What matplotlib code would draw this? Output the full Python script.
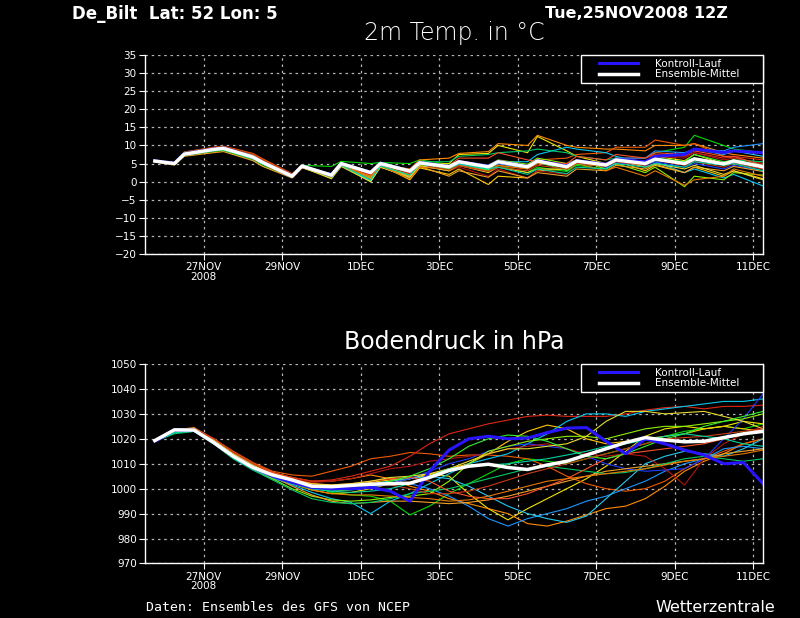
import numpy as np
import matplotlib
matplotlib.use('Agg')
import matplotlib.pyplot as plt
from matplotlib.patches import Rectangle

plt.rcParams['font.family'] = 'DejaVu Sans'

# Zeitachse: Tage seit 25NOV2008 00Z
tick_pos = [2, 4, 6, 8, 10, 12, 14, 16]
tick_labels = ['27NOV\n2008', '29NOV', '1DEC', '3DEC', '5DEC', '7DEC', '9DEC', '11DEC']

# Bodendruck alle 12h ab 25NOV 18Z, Temperatur jeweils 06Z und 12Z
p_time = np.arange(0.75, 16.26, 0.5)
t_time = [0.75]
for d in range(1, 16):
    t_time += [d + 0.25, d + 0.5]
t_time.append(16.25)

member_colors = ['#00dc00', '#f0e600', '#ffc800', '#ff8c00', '#f05a00', '#dc2814', '#00c8f0',
                 '#1e96ff', '#28c8f0', '#1e3cff', '#b41414', '#8cf000', '#f0a028', '#00c864',
                 '#fa5028', '#e6dc32', '#e67800', '#32f032', '#c83c14', '#00d2a0']

# 2m Temperatur
temp_members = [
    [5.6, 4.8, 7.2, 8.3, 8.6, 6.0, 4.3, 1.3, 4.5, 4.2, 5.6, 5.0, 5.3, 5.0, 6.0, 4.8, 5.6, 3.0, 4.5, 2.5, 4.0, 2.8, 4.5, 3.5, 5.5, 4.8, 8.0, 9.5, 12.8, 10.0, 9.0, 8.0],
    [5.5, 4.7, 7.8, 9.1, 9.4, 7.2, 5.6, 1.2, 4.0, 1.0, 4.6, 0.0, 4.2, 1.5, 4.8, 5.0, 7.5, 7.8, 10.0, 8.0, 12.5, 8.5, 7.0, 5.0, 6.5, 5.5, 7.0, 5.8, 7.5, 5.0, 6.0, 3.8],
    [5.4, 4.8, 7.5, 8.8, 9.1, 6.9, 5.4, 1.6, 4.2, 1.0, 4.8, 0.3, 4.6, 0.5, 3.8, 2.0, 3.5, -0.8, 1.5, 1.0, 3.0, 3.5, 5.0, 4.2, 5.8, 3.0, 4.5, 2.5, 4.0, 1.5, 3.0, 0.8],
    [5.6, 5.1, 8.0, 9.3, 9.6, 7.5, 6.0, 2.0, 4.6, 1.5, 5.2, 2.0, 4.8, 3.5, 6.0, 6.5, 7.8, 8.3, 10.5, 10.0, 12.8, 10.0, 9.5, 9.0, 9.0, 8.5, 10.0, 10.0, 10.5, 8.0, 7.5, 6.5],
    [5.7, 5.2, 8.2, 9.5, 9.8, 7.8, 6.3, 2.2, 4.4, 1.2, 4.5, 1.5, 4.4, 2.0, 4.5, 3.0, 4.8, 3.5, 5.0, 4.5, 6.0, 6.5, 7.5, 8.0, 9.5, 9.5, 11.5, 10.0, 10.5, 7.0, 6.5, 5.0],
    [5.8, 5.3, 8.0, 9.4, 9.6, 7.4, 5.8, 1.8, 4.2, 1.4, 4.4, 1.0, 4.0, 2.2, 4.5, 3.5, 4.8, 3.0, 4.5, 3.5, 5.0, 4.0, 5.5, 5.0, 6.5, 6.5, 7.5, 7.0, 8.0, 6.5, 7.0, 6.0],
    [5.5, 4.9, 7.4, 8.6, 8.9, 6.5, 5.0, 1.3, 4.2, 1.0, 4.4, 0.2, 4.2, 1.0, 4.5, 3.0, 5.0, 3.0, 5.5, 5.5, 7.5, 9.5, 9.0, 8.0, 7.0, 5.0, 5.5, 2.5, 3.5, 1.0, 2.0, -1.2],
    [5.6, 5.0, 7.6, 8.8, 9.2, 6.6, 5.1, 1.4, 4.0, 1.6, 4.7, 2.6, 4.8, 3.0, 5.2, 4.4, 5.2, 4.0, 5.6, 4.2, 5.8, 4.0, 5.6, 4.5, 6.5, 6.5, 8.5, 8.0, 9.0, 8.5, 9.5, 10.5],
    [5.7, 5.1, 7.7, 9.0, 9.3, 6.7, 5.2, 1.6, 4.5, 2.0, 5.2, 2.8, 5.4, 3.2, 5.5, 4.0, 5.2, 3.5, 5.0, 3.6, 5.2, 3.8, 5.5, 4.0, 6.0, 5.5, 7.0, 7.5, 9.0, 7.5, 8.5, 7.0],
    [5.6, 5.0, 7.9, 9.2, 9.5, 7.0, 5.6, 1.8, 4.3, 2.2, 5.0, 2.8, 4.8, 2.5, 4.6, 3.8, 5.0, 3.8, 5.0, 4.0, 5.5, 4.5, 5.5, 4.0, 5.2, 4.5, 5.5, 4.0, 5.0, 3.5, 4.5, 3.0],
    [5.5, 4.8, 7.3, 8.5, 8.9, 6.2, 4.7, 1.2, 4.0, 1.4, 4.6, 1.8, 4.4, 2.5, 5.0, 3.0, 4.0, 1.5, 3.5, 1.0, 3.0, 2.0, 5.0, 4.8, 6.5, 5.5, 7.0, 6.5, 8.0, 6.0, 6.5, 5.0],
    [5.6, 5.0, 7.7, 9.0, 9.3, 7.0, 5.5, 1.7, 4.3, 1.5, 4.8, 1.2, 4.5, 1.8, 4.6, 4.0, 5.5, 4.5, 6.0, 4.8, 6.5, 5.0, 6.0, 3.5, 5.0, 2.5, 4.0, -1.4, 1.5, 0.5, 2.5, 1.8],
    [5.4, 4.6, 7.0, 8.0, 8.3, 5.8, 4.2, 1.0, 3.8, 1.2, 4.3, 0.8, 4.0, 1.5, 4.2, 1.5, 3.0, 1.2, 3.0, 1.0, 2.5, 1.5, 3.5, 3.0, 4.5, 3.5, 4.8, 2.5, 4.0, 3.0, 4.2, 2.8],
    [5.7, 5.2, 8.1, 9.3, 9.5, 7.3, 5.8, 1.9, 4.5, 2.0, 5.1, 2.5, 5.0, 3.0, 5.5, 5.5, 7.0, 7.5, 8.0, 8.5, 9.0, 8.0, 7.0, 6.0, 6.5, 5.5, 6.5, 5.5, 6.5, 5.0, 6.0, 5.5],
    [5.6, 5.0, 7.5, 8.8, 9.0, 6.6, 5.0, 1.4, 4.2, 1.2, 4.5, 1.5, 4.6, 2.6, 5.0, 4.5, 6.5, 6.5, 8.0, 6.0, 5.5, 5.0, 7.0, 6.0, 7.5, 6.5, 8.0, 7.5, 8.5, 7.0, 7.0, 4.5],
    [5.5, 4.9, 7.5, 8.7, 9.0, 6.4, 4.9, 1.2, 4.0, 0.8, 4.2, 0.0, 4.0, 1.2, 4.4, 3.0, 4.5, 2.5, 4.0, 2.5, 3.5, 3.5, 5.5, 4.5, 6.0, 4.0, 5.0, 3.5, 4.5, 2.0, 3.0, 0.5],
    [5.7, 5.1, 7.9, 9.1, 9.4, 7.1, 5.6, 1.8, 4.1, 1.6, 4.6, 1.5, 4.3, 0.8, 4.0, 3.5, 4.5, 3.0, 4.5, 3.5, 5.0, 4.5, 5.0, 3.0, 4.0, 1.5, 3.0, -1.0, 0.5, 1.5, 3.5, 1.5],
    [5.6, 4.9, 7.4, 8.6, 8.8, 6.3, 4.8, 1.3, 4.1, 1.6, 4.6, 2.3, 4.7, 2.7, 5.0, 3.5, 5.3, 3.2, 5.5, 4.0, 5.5, 3.0, 4.8, 4.5, 6.5, 5.5, 6.5, 5.5, 7.5, 5.5, 6.0, 4.5],
    [5.8, 5.2, 8.1, 9.4, 9.7, 7.6, 6.0, 2.0, 4.3, 1.8, 4.8, 2.0, 4.6, 2.4, 4.8, 3.2, 4.4, 2.8, 4.0, 3.0, 4.5, 3.5, 5.0, 4.2, 5.5, 4.5, 6.0, 4.5, 5.5, 4.0, 5.0, 3.5],
    [5.5, 4.8, 7.3, 8.5, 8.8, 6.3, 4.8, 1.4, 4.2, 1.3, 4.5, 0.5, 4.3, 1.8, 4.8, 3.8, 4.8, 3.5, 4.0, 2.0, 3.5, 2.2, 4.0, 3.5, 5.0, 4.0, 5.0, 4.0, 5.5, 4.5, 5.0, 3.0],
]
temp_control = [5.7, 5.1, 7.7, 9.0, 9.3, 6.8, 5.3, 1.5, 4.3, 1.8, 5.0, 2.5, 5.0, 2.9, 5.3, 4.2, 5.5, 4.3, 5.6, 4.2, 5.8, 4.3, 5.8, 4.8, 6.2, 5.5, 7.0, 7.5, 9.0, 8.0, 8.5, 8.0]
temp_mean = [5.7, 5.0, 7.6, 8.9, 9.2, 6.8, 5.3, 1.5, 4.3, 1.8, 5.0, 2.5, 5.0, 2.9, 5.2, 4.1, 5.5, 4.1, 5.5, 4.1, 5.7, 4.1, 5.7, 4.6, 6.0, 5.0, 6.2, 5.0, 6.3, 4.9, 5.7, 4.1]

# Bodendruck
pres_members = [
    [1019, 1022.5, 1023.5, 1019.5, 1014.5, 1010, 1006.5, 1004, 1001, 998.5, 997.5, 997, 995, 989.5, 993, 998, 1002, 1006, 1010, 1012, 1011, 1010, 1012, 1014, 1016, 1018, 1021, 1023, 1024, 1025, 1024, 1026],
    [1019, 1023, 1024, 1019, 1013, 1008.5, 1005, 1002, 999.5, 998, 998.5, 1000, 1002, 1004, 1006, 1005, 998, 992, 987.5, 992, 996, 1000, 1004, 1009, 1015, 1021, 1024, 1025, 1024, 1025, 1027, 1026],
    [1019, 1023, 1024, 1019.5, 1014, 1009.5, 1006, 1004, 1002, 1001, 1001.5, 1002.5, 1003.5, 1004, 1005.5, 1008, 1010, 1014, 1019, 1023, 1025.5, 1024, 1020, 1018, 1019, 1020, 1021, 1022, 1024, 1025, 1024, 1023],
    [1019.5, 1023.5, 1024.5, 1020, 1014.5, 1010, 1006.5, 1004.5, 1003, 1003, 1004, 1005.5, 1004, 1001, 999, 996, 994, 992, 990, 986, 985, 987, 989.5, 992, 993, 996, 1001, 1007, 1011, 1014, 1018, 1020],
    [1019.5, 1023, 1024, 1020, 1015, 1010.5, 1007, 1005.5, 1005, 1007, 1009, 1012, 1013, 1014.5, 1014, 1013, 1013.5, 1013.5, 1013, 1012, 1009, 1005, 1002, 1000, 999, 1000, 1003, 1008, 1012, 1015, 1018, 1020],
    [1019, 1023, 1024, 1020, 1014.5, 1010, 1006.5, 1004.5, 1003, 1003.5, 1005, 1007, 1009, 1013, 1018, 1022, 1024, 1026, 1027.5, 1029, 1029.5, 1029, 1029, 1029, 1030, 1031.5, 1032.5, 1033, 1032, 1033, 1033, 1033.5],
    [1019, 1022.5, 1023.5, 1018.5, 1012.5, 1008, 1004.5, 1001.5, 998.5, 996, 994.5, 990, 995, 998, 1002, 1006, 1010, 1012, 1014, 1018, 1022, 1027, 1030, 1030, 1029, 1031, 1032, 1033, 1034, 1035, 1035, 1036],
    [1019, 1022.5, 1023, 1018, 1012, 1007.5, 1004, 1002, 1000, 999.5, 1000, 1001, 1002.5, 1002, 1000, 997, 993, 988, 985, 988, 990, 992, 995, 997, 1000, 1003, 1007, 1010, 1012, 1016, 1017, 1016],
    [1019, 1023, 1024, 1019, 1013.5, 1009, 1005.5, 1003, 1001, 1000.5, 1001, 1002, 1003, 1004, 1005, 1004, 1001, 997, 993, 990, 988, 986.5, 989, 996, 1003, 1010, 1013, 1015, 1014, 1013, 1016, 1020],
    [1019, 1023, 1023.5, 1018.5, 1013, 1008.5, 1005, 1002.5, 1000, 999, 999.5, 1000.5, 1002, 1004, 1007, 1010, 1012, 1015, 1017, 1018, 1017, 1016, 1013, 1010, 1008, 1007, 1007.5, 1008, 1012, 1020, 1028, 1038],
    [1019, 1023.5, 1024, 1020, 1014.5, 1009.5, 1006, 1004, 1002.5, 1003, 1004, 1006, 1008, 1009, 1011, 1012, 1013, 1014, 1016, 1017, 1018, 1016, 1014, 1013, 1014, 1013, 1008, 1001.5, 1012, 1018, 1022, 1025],
    [1019, 1022.5, 1023.5, 1019, 1013, 1008, 1004, 1000, 997, 995.5, 995, 995.5, 996.5, 997, 998, 1003, 1010, 1015, 1017, 1019, 1020, 1021, 1021, 1020, 1022, 1024, 1025, 1025, 1026, 1027, 1028, 1030],
    [1019.5, 1023, 1024, 1019.5, 1014, 1009, 1005, 1001, 997.5, 995, 994, 994.5, 995, 995, 994.5, 994, 994.5, 995.5, 997, 999, 1001, 1003, 1005, 1007, 1008, 1009, 1010, 1011, 1012, 1014, 1015, 1016],
    [1019, 1022, 1023, 1018, 1012, 1007.5, 1003.5, 999.5, 996, 994.5, 994, 994.5, 996, 998, 999, 1000, 1002, 1004, 1006, 1008, 1009, 1008, 1007, 1006, 1006.5, 1008, 1010, 1012, 1013, 1012, 1011, 1012],
    [1019.5, 1023.5, 1024, 1020, 1014.5, 1010, 1006.5, 1004, 1002, 1001.5, 1002, 1003, 1004, 1004.5, 1003, 999, 997, 996, 996, 998, 1001, 1004, 1008, 1012, 1014, 1015, 1016, 1017, 1018, 1020, 1022, 1024],
    [1019, 1023, 1024, 1019.5, 1014, 1009.5, 1006, 1003.5, 1002, 1001.5, 1002, 1003, 1004.5, 1005, 1006, 1008, 1011, 1014, 1016, 1016, 1017, 1018, 1021, 1027, 1031, 1031, 1030, 1030.5, 1031, 1029, 1027, 1024],
    [1019, 1023, 1023.5, 1019, 1013.5, 1009, 1005, 1002, 999.5, 998, 997.5, 997.5, 997, 996.5, 996, 995, 995.5, 997, 999, 1001, 1003, 1004, 1005, 1006, 1007, 1008, 1009.5, 1011, 1012, 1013, 1014, 1015.5],
    [1019, 1022.5, 1023.5, 1019, 1013.5, 1009, 1005, 1002, 1000, 999, 999.5, 1001, 1003, 1005, 1008, 1012, 1017, 1020, 1021.5, 1021, 1019, 1016, 1013, 1012, 1014, 1017, 1020, 1022, 1025, 1027, 1029, 1031],
    [1019.5, 1023, 1024, 1020, 1014.5, 1010, 1006, 1003.5, 1001.5, 1001, 1001.5, 1002, 1001.5, 1000, 998, 998, 999, 1001, 1003.5, 1006, 1008, 1010, 1012, 1014, 1016, 1018, 1020, 1020.5, 1021, 1022, 1023, 1024],
    [1019, 1022.5, 1023, 1018.5, 1012.5, 1008, 1004.5, 1002, 1000, 999, 998.5, 999, 1000, 1002, 1005, 1008, 1009, 1009.5, 1010, 1011, 1012, 1013.5, 1015, 1017, 1018, 1019.5, 1021, 1022, 1021, 1020, 1018, 1017],
]
pres_control = [1019, 1023.5, 1023.5, 1018.5, 1013, 1008.5, 1005, 1002.5, 1000.5, 1000, 1000, 1000.5, 999, 995, 1007, 1015.5, 1020, 1021, 1020, 1020.3, 1022.5, 1024.3, 1024.5, 1019, 1014, 1020, 1018, 1015.5, 1013.5, 1010, 1010.5, 1002]
pres_mean = [1019.3, 1023.6, 1023.5, 1018.5, 1013, 1008.5, 1005.5, 1003.5, 1001, 1000.8, 1001.3, 1001.8, 1002, 1002.2, 1004.5, 1007.3, 1009, 1009.8, 1008.5, 1007.7, 1009.5, 1011, 1013.5, 1016, 1018.5, 1020.5, 1019.5, 1018.8, 1019, 1020.5, 1022, 1023]

fig = plt.figure(figsize=(8, 6.18), dpi=100, facecolor='black')
ax1 = fig.add_axes([0.18125, 0.589, 0.7725, 0.322])
ax2 = fig.add_axes([0.18125, 0.0882, 0.7725, 0.3228])


def style_axes(ax, ylim, yticks, title, title_weight):
    ax.set_facecolor('black')
    ax.set_xlim(0.5, 16.25)
    ax.set_ylim(*ylim)
    ax.set_yticks(yticks)
    ax.set_xticks(tick_pos)
    ax.set_xticklabels(tick_labels, linespacing=0.95)
    ax.tick_params(colors='white', labelsize=7.5, length=4, width=0.8, pad=2)
    ax.grid(True, color='#b4b4b4', linestyle=(0, (2, 3)), linewidth=0.9)
    ax.spines['top'].set_visible(False)
    for s in ['left', 'right', 'bottom']:
        ax.spines[s].set_color('white')
        ax.spines[s].set_linewidth(1)
    ax.set_title(title, color='white', fontsize=17, fontweight=title_weight, pad=11)


style_axes(ax1, (-20, 35), range(-20, 36, 5), '2m Temp. in °C', 'light')
style_axes(ax2, (970, 1050), range(970, 1051, 10), 'Bodendruck in hPa', 'normal')

for vals, c in zip(temp_members, member_colors):
    ax1.plot(t_time, vals, color=c, lw=0.8)
for vals, c in zip(pres_members, member_colors):
    ax2.plot(p_time, vals, color=c, lw=0.8)

for ax, ctrl, mean, tt in [(ax1, temp_control, temp_mean, t_time), (ax2, pres_control, pres_mean, p_time)]:
    ax.plot(tt, ctrl, color='#2814ff', lw=2.2, label='Kontroll-Lauf')
    ax.plot(tt, mean, color='white', lw=2.5, label='Ensemble-Mittel')
    # Legendenrahmen
    ax.add_patch(Rectangle((0.7055, 1 - 28 / 199), 0.2945, 28 / 199, transform=ax.transAxes,
                           facecolor='black', edgecolor='white', lw=1, zorder=4.5, clip_on=False))
    leg = ax.legend(loc='upper left', bbox_to_anchor=(0.728, 1.0), frameon=False,
                    borderaxespad=0, fontsize=7.5, handlelength=3.8, handletextpad=1.6,
                    labelspacing=0.05, borderpad=0.35)
    leg.set_zorder(5)
    for t in leg.get_texts():
        t.set_color('white')

fig.text(0.09, 0.978, 'De_Bilt  Lat: 52 Lon: 5', color='white', fontsize=12, fontweight='bold', va='center')
fig.text(0.681, 0.978, 'Tue,25NOV2008 12Z', color='white', fontsize=11.5, fontweight='bold', va='center')
fig.text(0.1825, 0.017, 'Daten: Ensembles des GFS von NCEP', color='white', fontsize=9.5,
         family='DejaVu Sans Mono', va='center')
fig.text(0.969, 0.017, 'Wetterzentrale', color='white', fontsize=11.5, va='center', ha='right')

plt.savefig('out.png', dpi=100, facecolor='black')
plt.close()
